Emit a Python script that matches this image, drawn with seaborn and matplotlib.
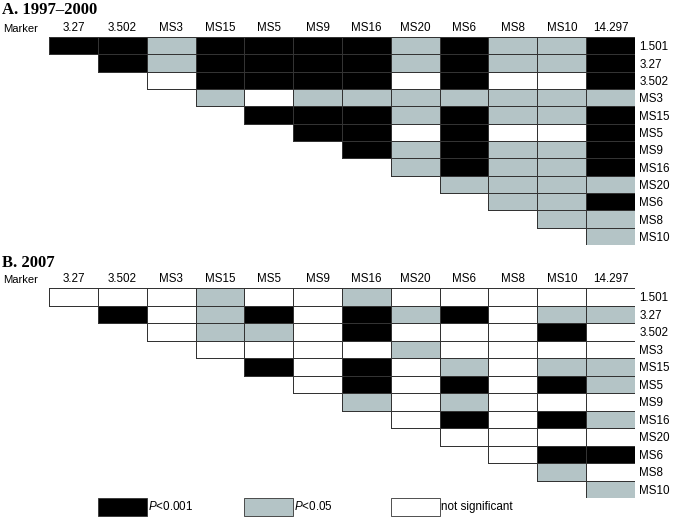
import numpy as np
import pandas as pd
import matplotlib
matplotlib.use("Agg")
import matplotlib.pyplot as plt
from matplotlib.colors import ListedColormap, to_rgba
from matplotlib.patches import Rectangle
import seaborn as sns

# 0 = not significant, 1 = P<0.05, 2 = P<0.001
colunas = ['3.27', '3.502', 'MS3', 'MS15', 'MS5', 'MS9', 'MS16', 'MS20', 'MS6', 'MS8', 'MS10', '14.297']
linhas = ['1.501', '3.27', '3.502', 'MS3', 'MS15', 'MS5', 'MS9', 'MS16', 'MS20', 'MS6', 'MS8', 'MS10']

valores_a = [
    [2, 2, 1, 2, 2, 2, 2, 1, 2, 1, 1, 2],
    [2, 1, 2, 2, 2, 2, 1, 2, 1, 1, 2],
    [0, 2, 2, 2, 2, 0, 2, 0, 0, 2],
    [1, 0, 1, 1, 1, 1, 1, 1, 1],
    [2, 2, 2, 1, 2, 1, 1, 2],
    [2, 2, 0, 2, 0, 0, 2],
    [2, 1, 2, 1, 1, 2],
    [1, 2, 1, 1, 2],
    [1, 1, 1, 1],
    [1, 1, 2],
    [1, 1],
    [1],
]

valores_b = [
    [0, 0, 0, 1, 0, 0, 1, 0, 0, 0, 0, 0],
    [2, 0, 1, 2, 0, 2, 1, 2, 0, 1, 1],
    [0, 1, 1, 0, 2, 0, 0, 0, 2, 0],
    [0, 0, 0, 0, 1, 0, 0, 0, 0],
    [2, 0, 2, 0, 1, 0, 1, 1],
    [0, 2, 0, 2, 0, 2, 1],
    [1, 0, 1, 0, 0, 0],
    [0, 2, 0, 2, 1],
    [0, 0, 0, 0],
    [0, 2, 2],
    [1, 0],
    [1],
]

titulos = ['A. 1997\u20132000', 'B. 2007']
legenda_textos = ['$P$<0.001', '$P$<0.05', 'not significant']
legenda_niveis = [2, 1, 0]

cores = ['white', '#b4c4c6', 'black']
cmap = ListedColormap(cores)
cmap.set_bad((0, 0, 0, 0))
cor_borda = '#333333'
lw = 0.6
fs = 8.4

plt.rcParams['font.family'] = ['Liberation Sans', 'DejaVu Sans']
plt.rcParams['mathtext.fontset'] = 'custom'
plt.rcParams['mathtext.rm'] = 'Liberation Sans'
plt.rcParams['mathtext.it'] = 'Liberation Sans:italic'


def montar(rows):
    m = np.full((len(linhas), len(colunas)), np.nan)
    for i, vals in enumerate(rows):
        m[i, i:] = vals
    return pd.DataFrame(m, index=linhas, columns=colunas)


fig = plt.figure(figsize=(6.85, 5.17), dpi=100)
W, H = 685, 517
posicoes = [(49, 37, 635, 245), (49, 288, 635, 498)]
titulo_base = [14, 267]

for k, dados in enumerate([valores_a, valores_b]):
    x0, y0, x1, y1 = posicoes[k]
    ax = fig.add_axes([x0 / W, 1 - y1 / H, (x1 - x0) / W, (y1 - y0) / H])
    df = montar(dados)
    mascara = df.isna()
    sns.heatmap(df, mask=mascara, cmap=cmap, vmin=-0.5, vmax=2.5, cbar=False,
                linewidths=lw, linecolor=cor_borda, ax=ax,
                xticklabels=colunas, yticklabels=linhas)
    # sem bordas nas celulas mascaradas
    malha = ax.collections[0]
    bordas = np.tile(to_rgba(cor_borda), (mascara.size, 1))
    bordas[mascara.values.ravel()] = (0, 0, 0, 0)
    malha.set_edgecolors(bordas)

    ax.xaxis.set_ticks_position('top')
    ax.yaxis.set_ticks_position('right')
    ax.tick_params(axis='both', length=0, labelsize=fs)
    ax.tick_params(axis='x', pad=2, labelrotation=0)
    ax.tick_params(axis='y', pad=3, labelrotation=0)
    for lbl in ax.get_yticklabels():
        lbl.set_ha('left')
    ax.set_xlabel('')
    ax.set_ylabel('')
    ax.annotate('Marker', xy=(0, 1), xycoords='axes fraction', xytext=(-46, 3),
                textcoords='offset pixels', ha='left', va='bottom', fontsize=8.1)
    fig.text(2 / W, 1 - titulo_base[k] / H, titulos[k], family='Liberation Serif',
             fontweight='bold', fontsize=12, va='baseline', ha='left')

    if k == 1:
        # legenda na linha abaixo da matriz B
        for j, (nivel, txt) in enumerate(zip(legenda_niveis, legenda_textos)):
            col = 1 + 3 * j
            ax.add_patch(Rectangle((col, len(linhas)), 1, 1, facecolor=cores[nivel],
                                   edgecolor=cor_borda, linewidth=lw, clip_on=False))
            ax.annotate(txt, xy=(col + 1, len(linhas) + 0.5), xycoords='data',
                        xytext=(1, 0), textcoords='offset pixels',
                        ha='left', va='center', fontsize=fs, annotation_clip=False)

fig.savefig('out.png', dpi=100)
